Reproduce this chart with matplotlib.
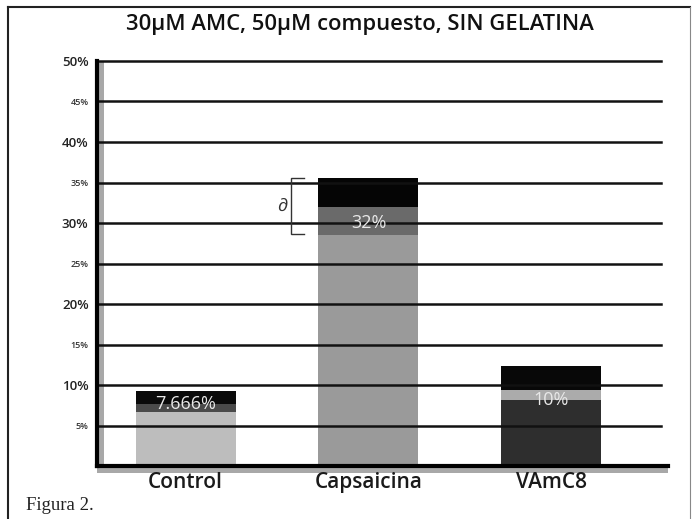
import matplotlib
matplotlib.use("Agg")
import matplotlib.pyplot as plt
from matplotlib.patches import Rectangle
from matplotlib.lines import Line2D

# ---- data ----
categories = ["Control", "Capsaicina", "VAmC8"]
seg_bottom = [6.67, 28.5, 8.1]
seg_middle = [1.0, 3.5, 1.3]
seg_top = [1.6, 3.6, 3.0]
bar_labels = ["7.666%", "32%", "10%"]
label_vals = [7.7, 30.0, 8.1]
major_ticks = [10, 20, 30, 40, 50]
minor_ticks = [5, 15, 25, 35, 45]
title = "30µM AMC, 50µM compuesto, SIN GELATINA"

# ---- styles ----
col_bottom = ["#bdbdbd", "#9a9a9a", "#2e2e2e"]
col_middle = ["#4a4a4a", "#6a6a6a", "#ababab"]
col_top = ["#0a0a0a", "#050505", "#080808"]
FONT = ["Open Sans", "DejaVu Sans"]

fig = plt.figure(figsize=(6.97, 5.19), dpi=100)
fig.patch.set_facecolor("white")
ax = fig.add_axes([0.139, 0.102, 0.82, 0.7805])

x = list(range(len(categories)))
w = 0.547
ax.bar(x, seg_bottom, width=w, color=col_bottom, zorder=1)
ax.bar(x, seg_middle, width=w, bottom=seg_bottom, color=col_middle, zorder=1)
bt = [a + b for a, b in zip(seg_bottom, seg_middle)]
ax.bar(x, seg_top, width=w, bottom=bt, color=col_top, zorder=1)

ax.set_xlim(-0.485, 2.64)
ax.set_ylim(0, 50)

# gridlines on top of bars (end a little before the axis end)
for t in major_ticks + minor_ticks:
    ax.plot([-0.485, 2.60], [t, t], color="#111111", lw=1.8, zorder=3,
            clip_on=False)

for s in ["top", "right"]:
    ax.spines[s].set_visible(False)
ax.spines["left"].set_linewidth(3)
ax.spines["bottom"].set_linewidth(3)
ax.spines["left"].set_zorder(5)
ax.spines["bottom"].set_zorder(5)

# shadow along axes
ax.add_patch(Rectangle((0, 0), 0.012, 1, transform=ax.transAxes,
                       color="#a8a8a8", lw=0, zorder=0.5, clip_on=False))
ax.add_patch(Rectangle((0, -0.018), 1, 0.018, transform=ax.transAxes,
                       color="#a8a8a8", lw=0, zorder=0.5, clip_on=False))

ax.set_xticks(x)
ax.set_xticklabels(categories, fontsize=15, family=FONT, color="#1a1a1a",
                   weight="semibold")
ax.tick_params(axis="x", length=0, pad=4)
ax.set_yticks(major_ticks)
ax.set_yticklabels([f"{t}%" for t in major_ticks], fontsize=9.5, family=FONT,
                   color="#222222", weight="semibold")
ax.set_yticks(minor_ticks, minor=True)
ax.set_yticklabels([f"{t}%" for t in minor_ticks], minor=True, fontsize=6.5,
                   family=FONT, color="#333333", weight="semibold")
ax.tick_params(axis="y", which="both", length=0, pad=6)

for xi, lab, v in zip(x, bar_labels, label_vals):
    ax.text(xi, v, lab, ha="center", va="center", fontsize=13,
            color="#e8e8e8", family=FONT, zorder=4)

# bracket next to Capsaicina bar
y0, y1 = 28.6, 35.6
bx = 0.575
ax.plot([bx + 0.07, bx, bx, bx + 0.07], [y1, y1, y0, y0], color="#333333",
        lw=1, zorder=4, solid_joinstyle="miter")
ax.text(bx - 0.045, (y0 + y1) / 2, "∂", ha="center", va="center",
        fontsize=13, color="#333333", family=FONT)

# title and caption
fig.text(0.517, 0.952, title, ha="center", va="center", fontsize=15.8,
         family=FONT, color="#111111", weight="semibold")
fig.text(0.038, 0.026, "Figura 2.", ha="left", va="center", fontsize=13.5,
         family=["Liberation Serif", "DejaVu Serif"], color="#222222")

# outer frame
fig.add_artist(Line2D([0.012, 0.012], [0.0, 0.986], transform=fig.transFigure,
                      color="#222222", lw=1.5))
fig.add_artist(Line2D([0.012, 0.99], [0.986, 0.986], transform=fig.transFigure,
                      color="#222222", lw=1.5))
fig.add_artist(Line2D([0.99, 0.99], [0.0, 0.986], transform=fig.transFigure,
                      color="#888888", lw=0.8))

fig.savefig("out.png", dpi=100, facecolor="white")
